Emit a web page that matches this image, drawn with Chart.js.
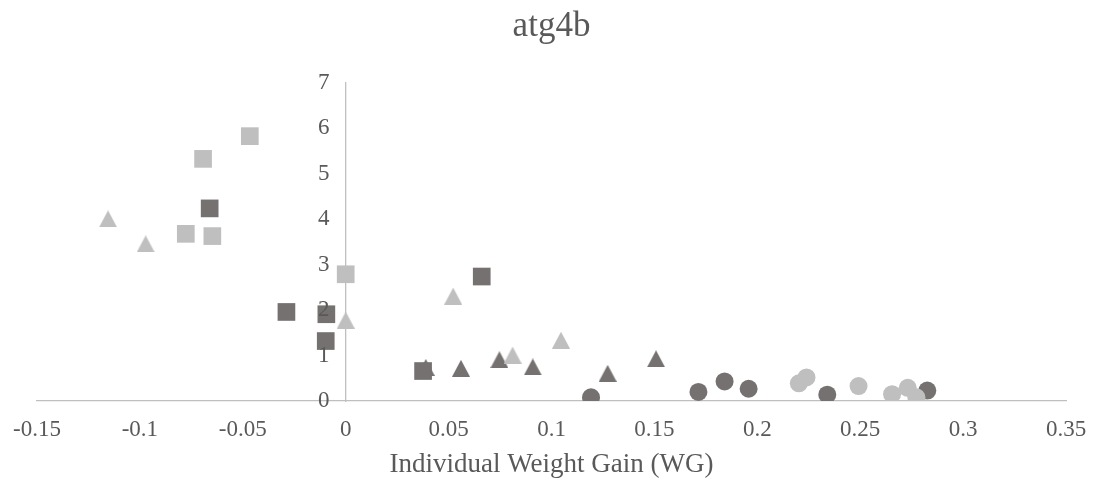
<!DOCTYPE html>
<html>
<head>
<meta charset="utf-8">
<script src="https://cdn.jsdelivr.net/npm/chart.js@4.4.1/dist/chart.umd.min.js"></script>
<style>
  html, body { margin: 0; padding: 0; background: #ffffff; }
  #wrap { width: 1094px; height: 481px; position: relative; }
</style>
</head>
<body>
<div id="wrap"><canvas id="c" width="1094" height="481"></canvas></div>
<script>
// ---- data ----
const chartTitle = "atg4b";
const xAxisTitle = "Individual Weight Gain (WG)";
const xTicks = [-0.15, -0.1, -0.05, 0, 0.05, 0.1, 0.15, 0.2, 0.25, 0.3, 0.35];
const yTicks = [0, 1, 2, 3, 4, 5, 6, 7];

const lightSquareX = [-0.0466, -0.0693, -0.0777, -0.0648, 0];
const lightSquareY = [5.83, 5.33, 3.68, 3.63, 2.79];

const darkSquareX = [-0.0661, -0.0288, -0.0094, -0.0097, 0.0661, 0.0376];
const darkSquareY = [4.24, 1.96, 1.91, 1.32, 2.74, 0.66];

const lightTriangleX = [-0.1155, -0.0972, 0, 0.0522, 0.0811, 0.1046];
const lightTriangleY = [4.01, 3.46, 1.78, 2.31, 1.01, 1.34];

const darkTriangleX = [0.0389, 0.056, 0.0747, 0.0909, 0.1273, 0.1508];
const darkTriangleY = [0.74, 0.72, 0.91, 0.75, 0.61, 0.93];

const lightCircleX = [0.2202, 0.2239, 0.2492, 0.2655, 0.2731, 0.2773];
const lightCircleY = [0.39, 0.52, 0.33, 0.15, 0.29, 0.08];

const darkCircleX = [0.1192, 0.1714, 0.1841, 0.1958, 0.234, 0.2826];
const darkCircleY = [0.08, 0.20, 0.43, 0.27, 0.14, 0.23];

// ---- styling ----
const LIGHT = '#BFBFBF';
const DARK = '#767171';
const TEXT = '#595959';
const FONT = "'Liberation Serif', 'Times New Roman', serif";

function pts(xs, ys) { return xs.map((x, i) => ({ x: x, y: ys[i] })); }

function triangleImage(color) {
  const w = 18, h = 17;
  const cv = document.createElement('canvas');
  cv.width = w; cv.height = h;
  const g = cv.getContext('2d');
  g.fillStyle = color;
  g.beginPath();
  g.moveTo(w / 2, 0);
  g.lineTo(w, h);
  g.lineTo(0, h);
  g.closePath();
  g.fill();
  return cv;
}

function ds(label, xs, ys, color, style, radius) {
  return {
    label: label,
    data: pts(xs, ys),
    backgroundColor: color,
    borderColor: color,
    borderWidth: 0,
    pointStyle: style,
    pointRadius: radius,
    pointHoverRadius: radius,
    showLine: false
  };
}

const datasets = [
  ds('Light squares', lightSquareX, lightSquareY, LIGHT, 'rect', 12.5),
  ds('Dark squares', darkSquareX, darkSquareY, DARK, 'rect', 12.5),
  ds('Light triangles', lightTriangleX, lightTriangleY, LIGHT, triangleImage(LIGHT), 9),
  ds('Dark triangles', darkTriangleX, darkTriangleY, DARK, triangleImage(DARK), 9),
  ds('Light circles', lightCircleX, lightCircleY, LIGHT, 'circle', 9),
  ds('Dark circles', darkCircleX, darkCircleY, DARK, 'circle', 9)
];

new Chart(document.getElementById('c'), {
  type: 'scatter',
  data: { datasets: datasets },
  options: {
    responsive: false,
    animation: false,
    events: [],
    layout: { padding: { left: 37, right: 28, top: 0, bottom: 2.5 } },
    plugins: {
      legend: { display: false },
      tooltip: { enabled: false },
      title: {
        display: true,
        text: chartTitle,
        color: TEXT,
        font: { family: FONT, size: 35, weight: 'normal', lineHeight: 1 },
        padding: { top: 9, bottom: 39 }
      }
    },
    scales: {
      x: {
        type: 'linear',
        position: 'bottom',
        min: xTicks[0],
        max: xTicks[xTicks.length - 1],
        afterBuildTicks: (s) => { s.ticks = xTicks.map(v => ({ value: v })); },
        grid: { display: false, drawTicks: false },
        border: { display: true, color: LIGHT, width: 1.3 },
        ticks: {
          color: TEXT,
          padding: 0,
          maxRotation: 0,
          autoSkip: false,
          font: { family: FONT, size: 23, lineHeight: 2.478 },
          callback: (v) => String(v)
        },
        title: {
          display: true,
          text: xAxisTitle,
          color: TEXT,
          font: { family: FONT, size: 27, lineHeight: 1 },
          padding: { top: -6.5, bottom: 0 }
        }
      },
      y: {
        type: 'linear',
        position: { x: 0 },
        min: yTicks[0],
        max: yTicks[yTicks.length - 1],
        afterBuildTicks: (s) => { s.ticks = yTicks.map(v => ({ value: v })); },
        grid: { display: false, drawTicks: false },
        border: { display: true, color: LIGHT, width: 1.3 },
        ticks: {
          z: 1,
          color: TEXT,
          padding: 0,
          font: { family: FONT, size: 23, lineHeight: 1 },
          // label followed by an en space + thin space to keep the gap to the axis
          callback: (v) => String(v) + '\u2002\u2009'
        }
      }
    }
  }
});
</script>
</body>
</html>
